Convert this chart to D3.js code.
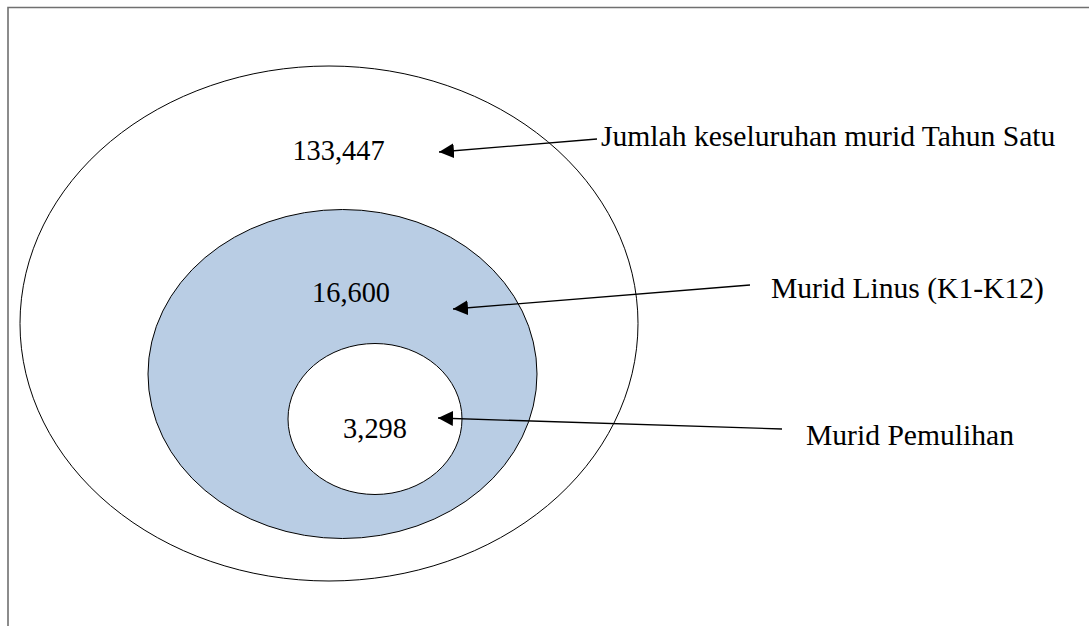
<!DOCTYPE html>
<html>
<head>
<meta charset="utf-8">
<script src="https://cdn.jsdelivr.net/npm/d3@7"></script>
<style>
    body { margin: 0; background: #fff; }
    svg { display: block; }
    text { font-family: "Liberation Serif", "Times New Roman", serif; fill: #000; }
</style>
</head>
<body>
<svg id="chart"></svg>
<script>
// data
var groups = ["Jumlah keseluruhan murid Tahun Satu", "Murid Linus (K1-K12)", "Murid Pemulihan"];
var counts = [133447, 16600, 3298];
var fills = ["#ffffff", "#b9cde4", "#ffffff"];

var width = 1089,
    height = 626;

var svg = d3.select("#chart")
    .attr("width", width)
    .attr("height", height);

// layout of the nested ellipses (pixels)
var ell = [
    {cx: 329, cy: 323.5, rx: 309, ry: 257.5},
    {cx: 342.5, cy: 374, rx: 194.5, ry: 164.5},
    {cx: 375, cy: 419, rx: 87, ry: 75.5}
];
// number label anchor, label text start, arrow start / tip
var numPos = [[338.5, 160], [351, 302], [375, 438]];
var labPos = [[601, 146], [771, 298], [806, 445]];
var arrows = [
    [[597, 139], [439, 152]],
    [[750, 285], [453, 309]],
    [[782, 429], [438, 418]]
];

var fmt = d3.format(",");

// frame (cut by the page edge on the right and bottom)
svg.append("path")
    .attr("d", "M8," + (height + 2) + "V7.5H" + (width + 2))
    .attr("fill", "none")
    .attr("stroke", "#707070")
    .attr("stroke-width", 1.6);

svg.append("defs").append("marker")
    .attr("id", "tri")
    .attr("viewBox", "0 0 15 15")
    .attr("refX", 15)
    .attr("refY", 7.5)
    .attr("markerWidth", 15)
    .attr("markerHeight", 15)
    .attr("markerUnits", "userSpaceOnUse")
    .attr("orient", "auto")
    .append("path")
    .attr("d", "M0,0L15,7.5L0,15Z")
    .attr("fill", "#000");

var data = groups.map(function (g, i) {
    return {name: g, value: counts[i], fill: fills[i], e: ell[i], n: numPos[i], l: labPos[i], a: arrows[i]};
});

svg.append("g").selectAll("ellipse")
    .data(data)
    .enter().append("ellipse")
    .attr("cx", function (d) { return d.e.cx; })
    .attr("cy", function (d) { return d.e.cy; })
    .attr("rx", function (d) { return d.e.rx; })
    .attr("ry", function (d) { return d.e.ry; })
    .attr("fill", function (d) { return d.fill; })
    .attr("stroke", "#000")
    .attr("stroke-width", 1);

// numbers look slightly narrow/tall in the original
svg.append("g").selectAll("text")
    .data(data)
    .enter().append("text")
    .attr("transform", function (d) { return "translate(" + d.n[0] + "," + d.n[1] + ") scale(0.93,1)"; })
    .attr("text-anchor", "middle")
    .style("font-size", "30.5px")
    .text(function (d) { return fmt(d.value); });

var line = d3.line();
svg.append("g").selectAll("path")
    .data(data)
    .enter().append("path")
    .attr("d", function (d) { return line(d.a); })
    .attr("fill", "none")
    .attr("stroke", "#000")
    .attr("stroke-width", 1.3)
    .attr("marker-end", "url(#tri)");

svg.append("g").selectAll("text")
    .data(data)
    .enter().append("text")
    .attr("x", function (d) { return d.l[0]; })
    .attr("y", function (d) { return d.l[1]; })
    .style("font-size", "29.6px")
    .text(function (d) { return d.name; });
</script>
</body>
</html>
